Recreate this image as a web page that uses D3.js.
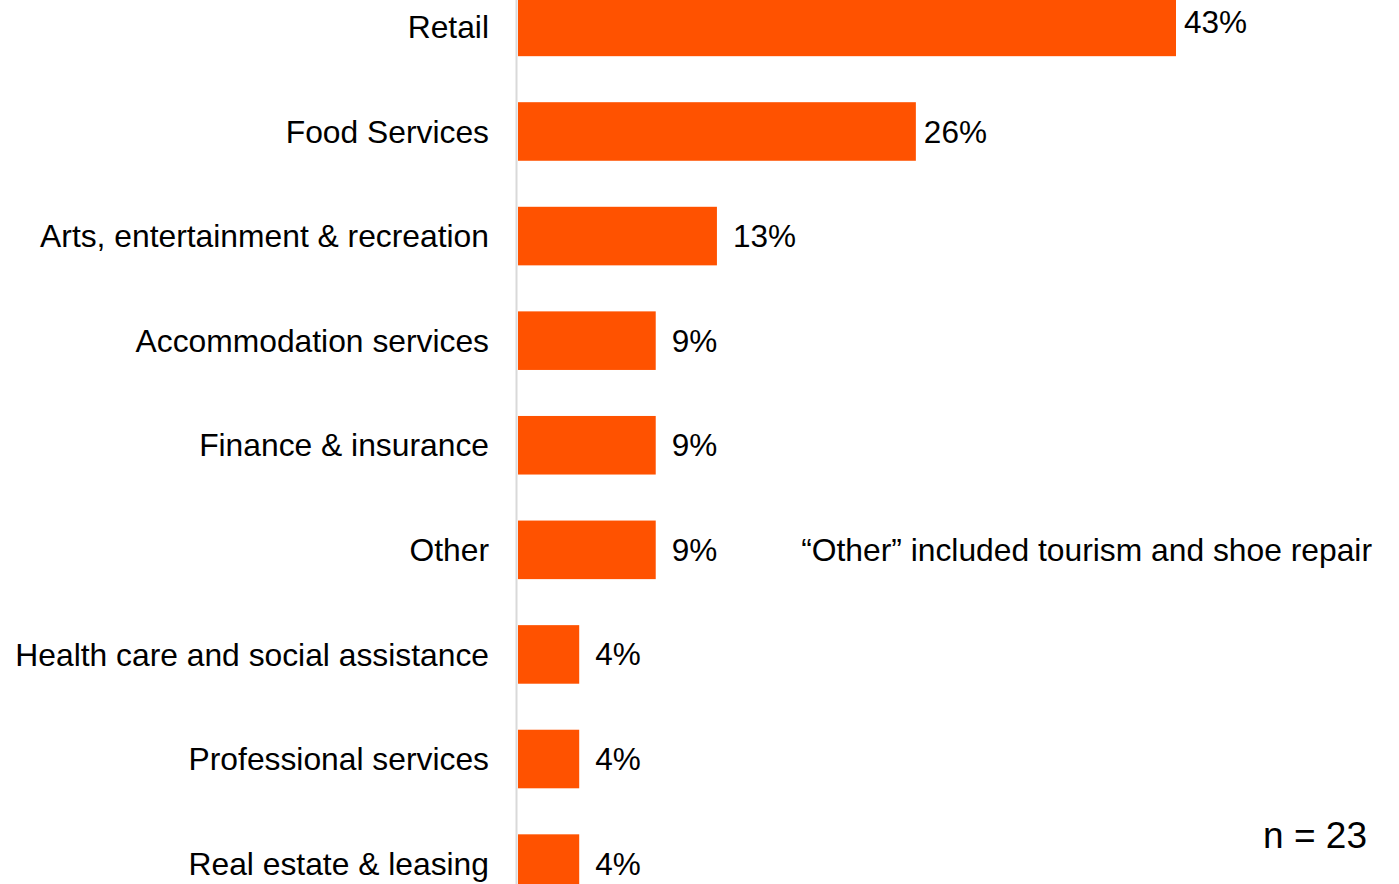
<!DOCTYPE html>
<html>
<head>
<meta charset="utf-8">
<script src="https://cdn.jsdelivr.net/npm/d3@7"></script>
<style>
  body { margin: 0; background: #fff; }
  text { font-family: "Liberation Sans", Arial, sans-serif; fill: #000; }
</style>
</head>
<body>
<div id="chart"></div>
<script>
const categories = [
    "Retail",
    "Food Services",
    "Arts, entertainment & recreation",
    "Accommodation services",
    "Finance & insurance",
    "Other",
    "Health care and social assistance",
    "Professional services",
    "Real estate & leasing"
];
const shares = [43, 26, 13, 9, 9, 9, 4, 4, 4];
const valueLabels = ["43%", "26%", "13%", "9%", "9%", "9%", "4%", "4%", "4%"];
const noteText = "\u201COther\u201D included tourism and shoe repair";
const sampleText = "n = 23";

const width = 1399, height = 884;
const left = 518;

const svg = d3.select("#chart").append("svg")
    .attr("width", width)
    .attr("height", height);

const x = d3.scaleLinear()
    .domain([0, 43])
    .range([left, 1176]);

const y = d3.scaleBand()
    .domain(categories)
    .range([-25.4, 915.9])
    .paddingInner(0.44)
    .paddingOuter(0.22);

svg.selectAll("rect.bar")
    .data(categories)
    .enter()
    .append("rect")
    .attr("class", "bar")
    .attr("x", x(0))
    .attr("y", d => y(d))
    .attr("width", (d, i) => x(shares[i]) - x(0))
    .attr("height", y.bandwidth())
    .attr("fill", "#FF5200");

// axis line
svg.append("line")
    .attr("x1", left - 1.5)
    .attr("x2", left - 1.5)
    .attr("y1", 0)
    .attr("y2", height)
    .attr("stroke", "#d9d9d9")
    .attr("stroke-width", 2);

svg.selectAll("text.cat")
    .data(categories)
    .enter()
    .append("text")
    .attr("class", "cat")
    .attr("x", 489)
    .attr("y", d => y(d) + y.bandwidth() / 2)
    .attr("dy", "0.35em")
    .attr("text-anchor", "end")
    .style("font-size", "31.8px")
    .text(d => d);

svg.selectAll("text.val")
    .data(categories)
    .enter()
    .append("text")
    .attr("class", "val")
    .attr("x", (d, i) => x(shares[i]) + (shares[i] > 20 ? 8 : 16))
    .attr("y", (d, i) => y(d) + y.bandwidth() / 2 - (i === 0 ? 5 : 0))
    .attr("dy", "0.35em")
    .style("font-size", "31.5px")
    .text((d, i) => valueLabels[i]);

svg.append("text")
    .attr("x", 1372)
    .attr("y", y("Other") + y.bandwidth() / 2)
    .attr("dy", "0.35em")
    .attr("text-anchor", "end")
    .style("font-size", "31.8px")
    .text(noteText);

svg.append("text")
    .attr("x", 1367)
    .attr("y", 835)
    .attr("dy", "0.35em")
    .attr("text-anchor", "end")
    .style("font-size", "37px")
    .text(sampleText);
</script>
</body>
</html>
